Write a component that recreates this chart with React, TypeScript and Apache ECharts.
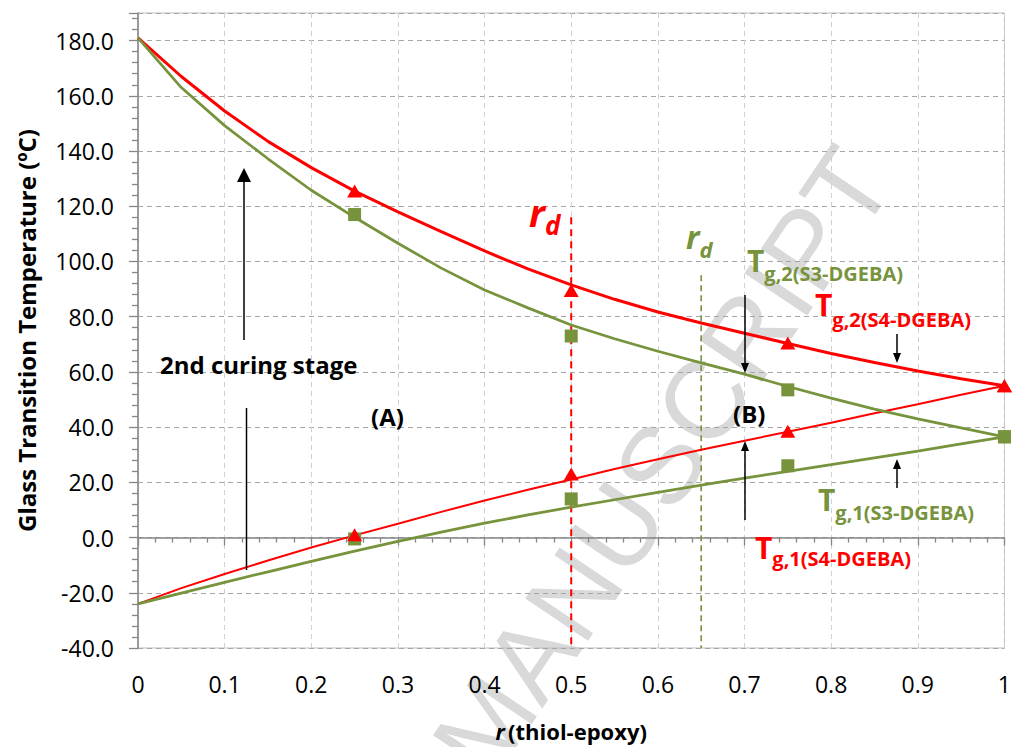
import React, { useEffect, useRef } from "react";
import * as echarts from "echarts";

// ---- data ----
const rModel = [0, 0.05, 0.1, 0.15, 0.2, 0.25, 0.3, 0.35, 0.4, 0.45, 0.5, 0.55, 0.6, 0.65, 0.7, 0.75, 0.8, 0.85, 0.9, 0.95, 1];
const tg2S4Model = [181, 167, 154.5, 143.5, 134, 125.5, 118, 110.8, 103.8, 97.3, 91.5, 86.3, 81.7, 77.7, 74, 70.3, 66.7, 63.4, 60.3, 57.5, 55];
const tg1S4Model = [-24, -18.3, -13.2, -8.3, -3.6, 0.8, 5, 9.3, 13.4, 17.3, 21, 24.8, 28.4, 31.8, 35.1, 38.3, 41.6, 45, 48.3, 51.7, 55];
const tg2S3Model = [181, 163, 149.2, 137.2, 125.8, 116, 106.6, 97.6, 89.7, 83.2, 77, 72, 67.5, 63.3, 59.2, 54.7, 50.5, 46.5, 43, 39.7, 36.5];
const tg1S3Model = [-24, -20.1, -16.2, -12.4, -8.6, -4.9, -1.4, 2.0, 5.2, 8.2, 11, 13.7, 16.4, 19, 21.5, 24, 26.4, 28.9, 31.3, 33.9, 36.5];

const rExp = [0.25, 0.5, 0.75, 1];
const tg2S4Exp = [125.5, 89.5, 70.5, 55];
const tg1S4Exp = [1, 23, 38.5, 55];
const tg2S3Exp = [117, 73, 53.5, 36.5];
const tg1S3Exp = [-0.5, 14, 26, 36.5];

const rdS4 = 0.5;
const rdS4Top = 116;
const rdS3 = 0.65;
const rdS3Top = 95;

const yMin = -40;
const yMax = 190;
const yStep = 20;
const xMin = 0;
const xMax = 1;
const xStep = 0.1;

const RED = "#ff0000";
const GREEN = "#77933c";
const FONT = "Open Sans";

const zip = (xs: number[], ys: number[]) => xs.map((x, i) => [x, ys[i]]);

function arrow(x: number, yFrom: number, yTip: number, headW: number, headH: number, lw: number) {
  const dir = yTip < yFrom ? -1 : 1;
  const base = yTip - dir * headH;
  return [
    { type: "line", z: 100, shape: { x1: x, y1: yFrom, x2: x, y2: base }, style: { stroke: "#000", lineWidth: lw } },
    {
      type: "polygon",
      z: 100,
      shape: { points: [[x, yTip], [x - headW / 2, base], [x + headW / 2, base]] },
      style: { fill: "#000" },
    },
  ];
}

// big letter + lowered subscript as one rich text
function subLabel(
  x: number,
  yTop: number,
  main: string,
  sub: string,
  mainSize: number,
  subSize: number,
  lineH: number,
  fill: string,
  italic: boolean
) {
  return {
    type: "text",
    z: 100,
    x,
    y: yTop,
    style: {
      text: `{m|${main}}{s|${sub}}`,
      fill,
      align: "left",
      verticalAlign: "top",
      rich: {
        m: {
          fontSize: mainSize,
          lineHeight: mainSize,
          fontFamily: FONT,
          fontWeight: "bold",
          fontStyle: italic ? "italic" : "normal",
          fill,
          verticalAlign: "top",
        },
        s: {
          fontSize: subSize,
          lineHeight: lineH,
          fontFamily: FONT,
          fontWeight: "bold",
          fontStyle: italic ? "italic" : "normal",
          fill,
          verticalAlign: "middle",
        },
      },
    },
  };
}

function txt(x: number, y: number, text: string, fontSize: number, fill: string) {
  return {
    type: "text",
    z: 100,
    x,
    y,
    style: {
      text,
      fontSize,
      fontFamily: FONT,
      fontWeight: "bold",
      fill,
      align: "left",
      verticalAlign: "middle",
    },
  };
}

export default function App() {
  const ref = useRef<HTMLDivElement>(null);
  useEffect(() => {
    if (!ref.current) return;
    const chart = echarts.init(ref.current, undefined, { renderer: "svg" });
    const option: any = {
      animation: false,
      backgroundColor: "#ffffff",
      grid: {
        left: 138,
        right: 7,
        top: 13,
        bottom: 95,
        show: true,
        borderColor: "#bfbfbf",
        borderWidth: 1,
        backgroundColor: "transparent",
      },
      xAxis: {
        type: "value",
        min: xMin,
        max: xMax,
        interval: xStep,
        name: "{i|r} {b|(thiol-epoxy)}",
        nameLocation: "middle",
        nameGap: 72,
        nameTextStyle: {
          rich: {
            i: { fontFamily: FONT, fontSize: 22, fontWeight: "bold", fontStyle: "italic", color: "#000" },
            b: { fontFamily: FONT, fontSize: 22, fontWeight: "bold", color: "#000" },
          },
        },
        axisLine: { show: true, lineStyle: { color: "#868686", width: 1.5 } },
        axisTick: { show: true, inside: false, length: 8, lineStyle: { color: "#868686", width: 1.3 } },
        minorTick: { show: true, splitNumber: 5, length: 5, lineStyle: { color: "#868686", width: 1.3 } },
        axisLabel: {
          margin: 24,
          fontFamily: FONT,
          fontSize: 23,
          color: "#000",
          formatter: (v: number) => (v === 0 ? "0" : v === 1 ? "1" : v.toFixed(1)),
        },
        splitLine: { show: true, lineStyle: { color: "#d0d0d0", type: [5, 4], width: 1 } },
      },
      yAxis: {
        type: "value",
        min: yMin,
        max: yMax,
        interval: yStep,
        name: "Glass Transition Temperature (ºC)",
        nameLocation: "middle",
        nameGap: 100,
        nameTextStyle: { fontFamily: FONT, fontSize: 24, fontWeight: "bold", color: "#000" },
        axisLine: { show: true, lineStyle: { color: "#868686", width: 1.5 } },
        axisTick: { show: true, inside: false, length: 9, lineStyle: { color: "#868686", width: 1.3 } },
        minorTick: { show: true, splitNumber: 5, length: 6, lineStyle: { color: "#868686", width: 1.3 } },
        axisLabel: {
          margin: 24,
          fontFamily: FONT,
          fontSize: 23,
          color: "#000",
          formatter: (v: number) => (v > 180 ? "" : v.toFixed(1)),
        },
        splitLine: { show: true, lineStyle: { color: "#a6a6a6", type: [5, 4], width: 1 } },
      },
      series: [
        {
          type: "line",
          name: "Tg2 S4 model",
          data: zip(rModel, tg2S4Model),
          symbol: "none",
          lineStyle: { color: RED, width: 3 },
          z: 3,
        },
        {
          type: "line",
          name: "Tg1 S4 model",
          data: zip(rModel, tg1S4Model),
          symbol: "none",
          lineStyle: { color: RED, width: 2 },
          z: 3,
        },
        {
          type: "line",
          name: "Tg2 S3 model",
          data: zip(rModel, tg2S3Model),
          symbol: "none",
          lineStyle: { color: GREEN, width: 2.75 },
          z: 3,
        },
        {
          type: "line",
          name: "Tg1 S3 model",
          data: zip(rModel, tg1S3Model),
          symbol: "none",
          lineStyle: { color: GREEN, width: 2.75 },
          z: 3,
        },
        {
          type: "line",
          name: "rd S4",
          data: [[rdS4, rdS4Top], [rdS4, yMin]],
          symbol: "none",
          lineStyle: { color: RED, width: 2, type: [7, 5] },
          z: 2,
        },
        {
          type: "line",
          name: "rd S3",
          data: [[rdS3, rdS3Top], [rdS3, yMin]],
          symbol: "none",
          lineStyle: { color: GREEN, width: 1.6, type: [6, 4] },
          z: 2,
        },
        {
          type: "scatter",
          name: "Tg2 S3 exp",
          data: zip(rExp, tg2S3Exp),
          symbol: "rect",
          symbolSize: 13,
          itemStyle: { color: GREEN, opacity: 1 },
          z: 4,
        },
        {
          type: "scatter",
          name: "Tg1 S3 exp",
          data: zip(rExp, tg1S3Exp),
          symbol: "rect",
          symbolSize: 13,
          itemStyle: { color: GREEN, opacity: 1 },
          z: 4,
        },
        {
          type: "scatter",
          name: "Tg2 S4 exp",
          data: zip(rExp, tg2S4Exp),
          symbol: "triangle",
          symbolSize: [15, 13],
          itemStyle: { color: RED, opacity: 1 },
          z: 5,
        },
        {
          type: "scatter",
          name: "Tg1 S4 exp",
          data: zip(rExp, tg1S4Exp),
          symbol: "triangle",
          symbolSize: [15, 13],
          itemStyle: { color: RED, opacity: 1 },
          z: 5,
        },
      ],
      graphic: {
        elements: [
          {
            type: "text",
            z: -10,
            x: 662,
            y: 462,
            rotation: (56 * Math.PI) / 180,
            silent: true,
            style: {
              text: "MANUSCRIPT",
              fontSize: 110,
              fontFamily: "Liberation Sans",
              fill: "#d9d9d9",
              align: "center",
              verticalAlign: "middle",
            },
          },
          // r_d labels
          subLabel(529, 193, "r", "d", 38, 26, 64, RED, true),
          subLabel(686, 220, "r", "d", 32, 22, 58, GREEN, true),
          // Tg labels
          subLabel(747, 245, "T", "g,2(S3-DGEBA)", 30, 20, 56, GREEN, false),
          subLabel(815, 289, "T", "g,2(S4-DGEBA)", 30, 20, 60, RED, false),
          subLabel(818, 484, "T", "g,1(S3-DGEBA)", 30, 20, 56, GREEN, false),
          subLabel(755, 532, "T", "g,1(S4-DGEBA)", 30, 20, 52, RED, false),
          // other annotations
          txt(160, 364, "2nd curing stage", 24, "#000"),
          txt(371, 416, "(A)", 24, "#000"),
          txt(733, 413, "(B)", 24, "#000"),
          ...arrow(244, 340, 168, 14, 14, 1.5),
          { type: "line", z: 100, shape: { x1: 246.5, y1: 408, x2: 246.5, y2: 570 }, style: { stroke: "#000", lineWidth: 1.5 } },
          ...arrow(745, 295, 373, 8, 10, 1.5),
          ...arrow(897, 334, 363, 8, 10, 1.5),
          ...arrow(745, 520, 441, 8, 10, 1.5),
          ...arrow(897, 488, 459, 8, 10, 1.5),
        ],
      },
    };
    chart.setOption(option);
    return () => chart.dispose();
  }, []);
  return <div ref={ref} style={{ position: "fixed", left: 0, top: 0, width: 1014, height: 747 }} />;
}
